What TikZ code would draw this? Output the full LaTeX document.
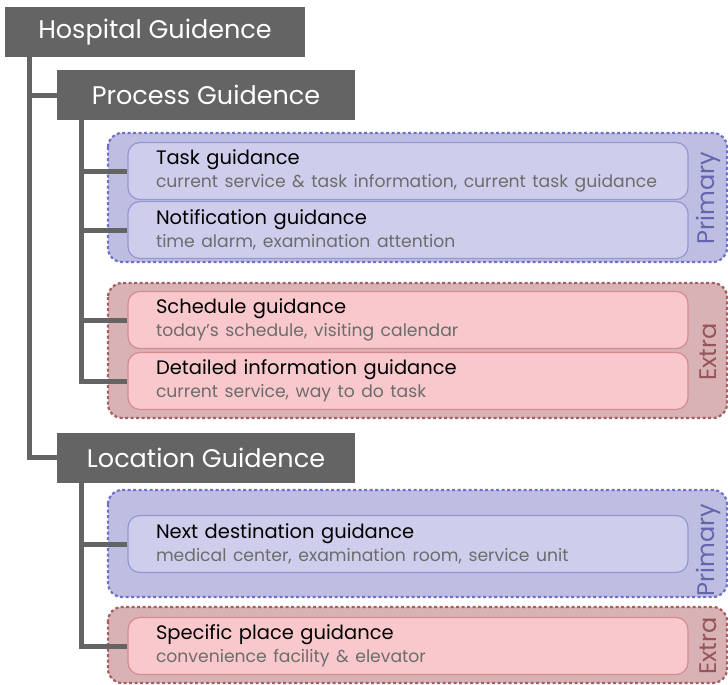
\documentclass[tikz,border=0pt]{standalone}
\usepackage{fontspec}
\setmainfont{Poppins}
\usetikzlibrary{positioning}

\definecolor{headgray}{RGB}{100,100,100}
\definecolor{subgray}{RGB}{108,108,108}
\definecolor{primfill}{RGB}{190,190,226}
\definecolor{primin}{RGB}{206,206,236}
\definecolor{primedge}{RGB}{150,150,212}
\definecolor{primdash}{RGB}{112,112,200}
\definecolor{primtext}{RGB}{100,100,175}
\definecolor{extrafill}{RGB}{216,178,180}
\definecolor{extrain}{RGB}{248,200,204}
\definecolor{extraedge}{RGB}{214,140,142}
\definecolor{extradash}{RGB}{165,95,98}
\definecolor{extratext}{RGB}{150,85,88}

\newcommand{\subline}[1]{{\color{subgray}\fontsize{17.2}{23}\selectfont #1}}

\begin{document}
\begin{tikzpicture}[x=1pt, y=-1pt,
    head/.style={fill=headgray, text=white, minimum width=298, minimum height=50,
        inner sep=0pt, font=\fontsize{25.5}{27}\selectfont},
    link/.style={draw=headgray, line width=5pt},
    item/.style={rounded corners=12, minimum height=57, text width=504,
        inner xsep=28, inner ysep=0, align=left, line width=1.2pt,
        font=\fontsize{19.5}{23}\selectfont},
    primitem/.style={item, fill=primin, draw=primedge},
    extraitem/.style={item, fill=extrain, draw=extraedge},
    primgroup/.style={fill=primfill, draw=primdash, dash pattern=on 3pt off 2.5pt,
        line width=2.2pt, rounded corners=14},
    extragroup/.style={fill=extrafill, draw=extradash, dash pattern=on 3pt off 2.5pt,
        line width=2.2pt, rounded corners=14},
    tag/.style={rotate=90, font=\fontsize{24}{25}\selectfont}]

    \useasboundingbox (0,0) rectangle (728,685);

    % ==========================================
    % 1. HEADINGS
    % ==========================================
    \node[head, minimum width=300] (hosp) at (155,32) {Hospital Guidence};
    \node[head] (proc) at (206,95) {Process Guidence};
    \node[head] (loc) at (206,457.5) {Location Guidence};

    % ==========================================
    % 2. GROUP FRAMES (Primary / Extra)
    % ==========================================
    \draw[primgroup] (108,133) rectangle (727,262);
    \draw[extragroup] (108,283) rectangle (727,418);
    \draw[primgroup] (108,490) rectangle (727,597);
    \draw[extragroup] (108,607) rectangle (727,683);

    \node[tag, text=primtext] (tagA) at (708,198) {Primary};
    \node[tag, text=extratext] (tagB) at (708,352) {Extra};
    \node[tag, text=primtext] (tagC) at (708,550) {Primary};
    \node[tag, text=extratext] (tagD) at (708,646) {Extra};

    % ==========================================
    % 3. GUIDANCE ITEMS
    % ==========================================
    \node[primitem] (task) at (408,171) {Task guidance\\
        \subline{current service \& task information, current task guidance}};
    \node[primitem] (notif) at (408,230) {Notification guidance\\
        \subline{time alarm, examination attention}};
    \node[extraitem] (sched) at (408,320) {Schedule guidance\\
        \subline{today’s schedule, visiting calendar}};
    \node[extraitem] (detail) at (408,381) {Detailed information guidance\\
        \subline{current service, way to do task}};
    \node[primitem] (nextdest) at (408,544) {Next destination guidance\\
        \subline{medical center, examination room, service unit}};
    \node[extraitem] (place) at (408,646) {Specific place guidance\\
        \subline{convenience facility \& elevator}};

    % ==========================================
    % 4. TREE LINES
    % ==========================================
    \coordinate (HospBus) at ([xshift=25pt]hosp.south west);
    \coordinate (ProcBus) at ([xshift=25pt]proc.south west);
    \coordinate (LocBus) at ([xshift=25pt]loc.south west);

    \draw[link] (HospBus) |- (proc.west);
    \draw[link] (HospBus) |- (loc.west);

    \draw[link] (ProcBus) |- (task.west);
    \draw[link] (ProcBus) |- (notif.west);
    \draw[link] (ProcBus) |- (sched.west);
    \draw[link] (ProcBus) |- (detail.west);

    \draw[link] (LocBus) |- (nextdest.west);
    \draw[link] (LocBus) |- (place.west);

\end{tikzpicture}
\end{document}
